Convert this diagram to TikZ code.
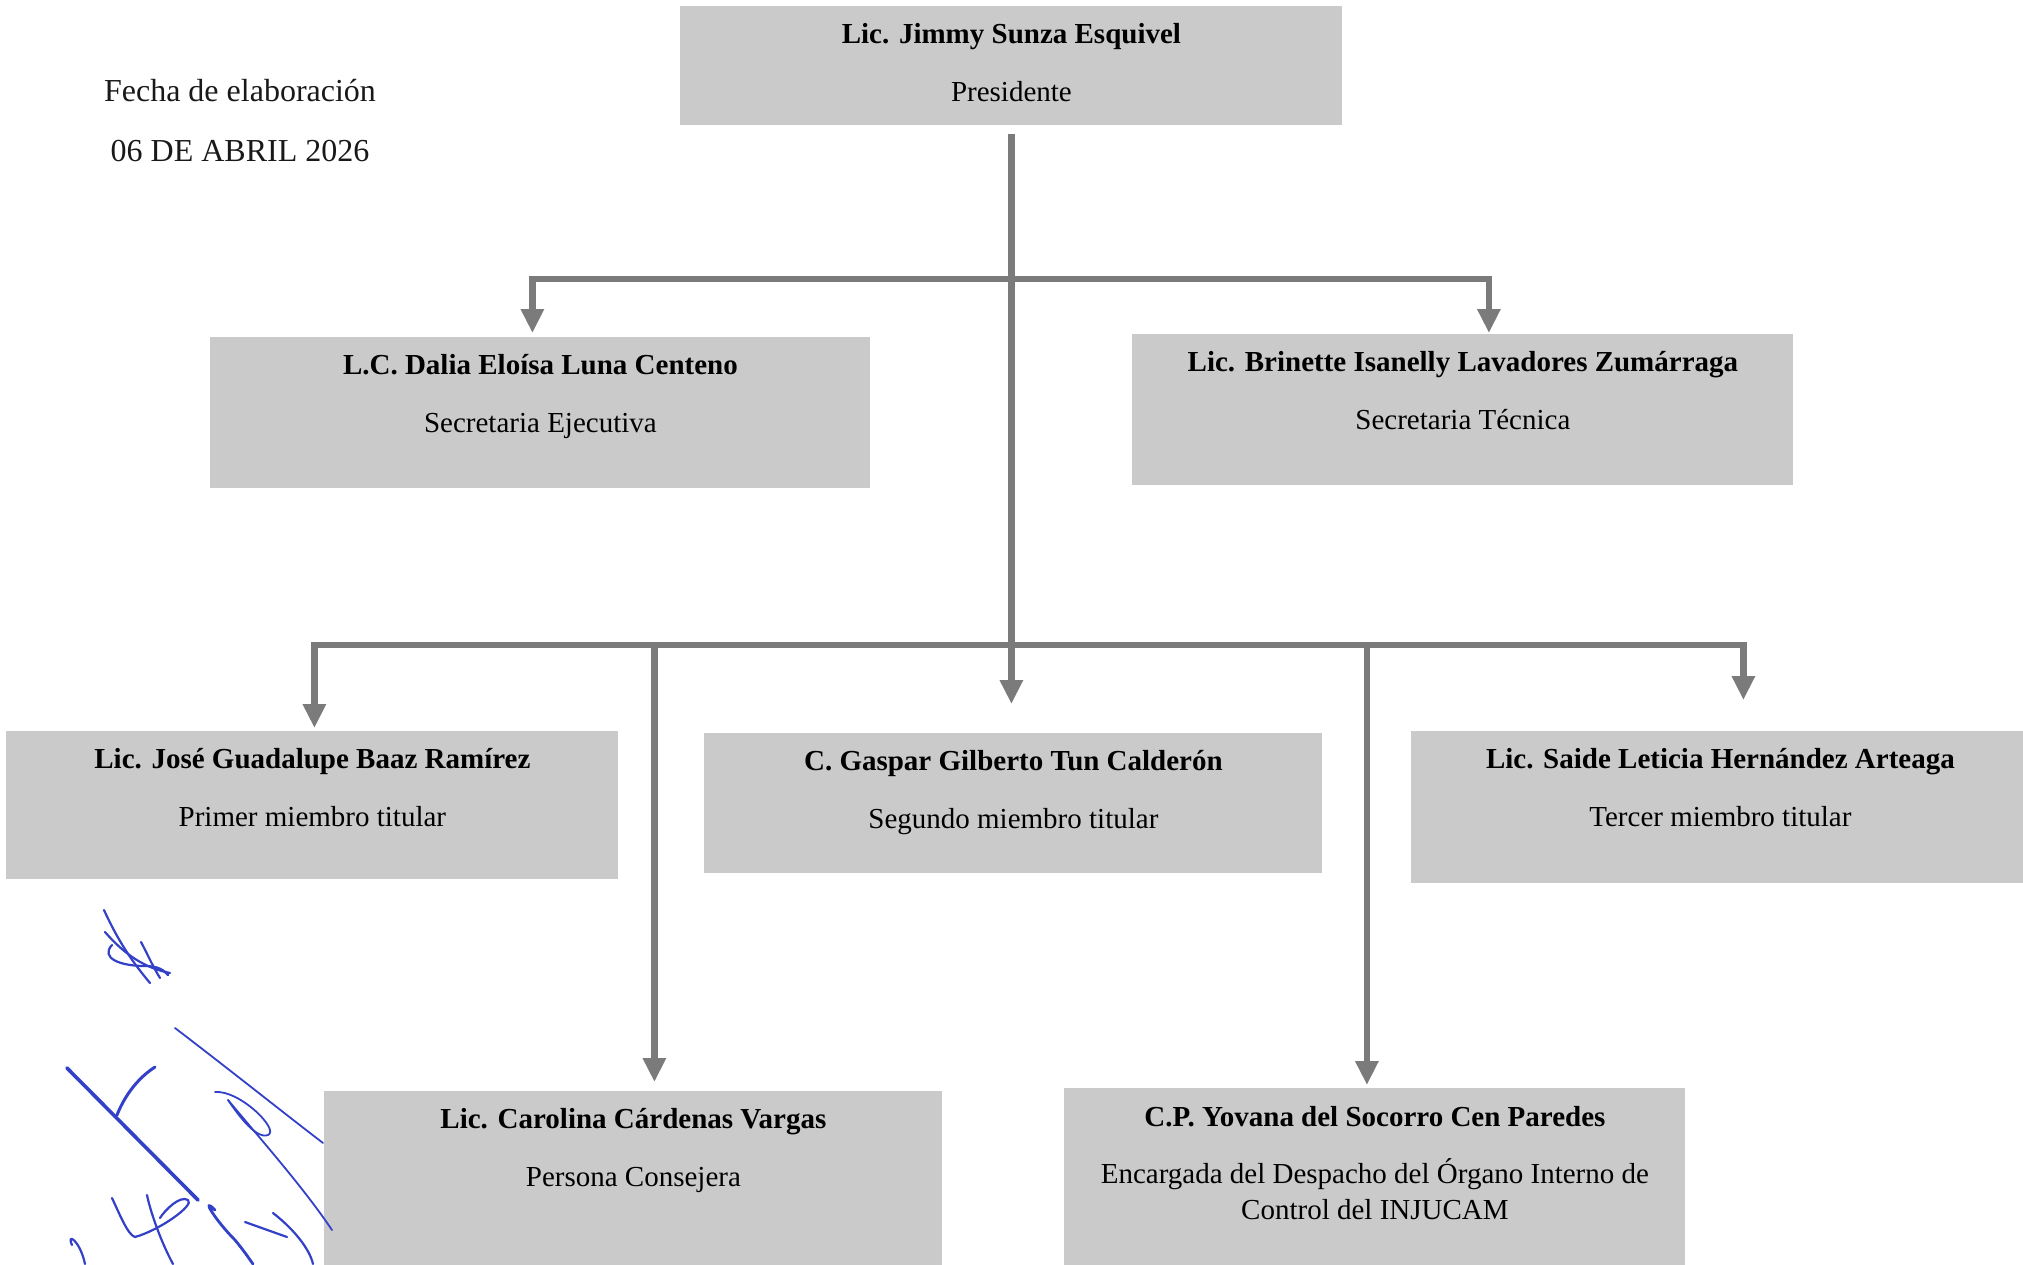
\documentclass[tikz,border=0pt]{standalone}
\usepackage{fontspec}
\setmainfont{Liberation Serif}
\usetikzlibrary{arrows.meta,calc}
\definecolor{boxgray}{HTML}{CACACA}
\definecolor{linegray}{HTML}{7B7B7B}
\definecolor{sigblue}{HTML}{3340C8}
\tikzset{
  box/.style={fill=boxgray,draw=none,inner sep=0pt,anchor=north west},
  nm/.style={font=\fontsize{14.5}{17}\selectfont\bfseries,anchor=base,inner sep=0pt,text=black},
  tl/.style={font=\fontsize{14.5}{17}\selectfont,anchor=base,inner sep=0pt,text=black},
  fecha/.style={font=\fontsize{16}{19}\selectfont,anchor=base,inner sep=0pt,text=black!90},
  conn/.style={draw=linegray,line width=3.25pt},
  arr/.style={-{Triangle[width=11pt,length=12pt]}},
  sig/.style={draw=sigblue,line width=1.1pt,line cap=round,line join=round}
}
\begin{document}
\begin{tikzpicture}[x=0.5pt,y=-0.5pt]
\useasboundingbox (0,0) rectangle (2023,1264);
\fill[white] (0,0) rectangle (2023,1264);

% boxes
\node[box,minimum width=331pt,minimum height=59.5pt] (pres) at (680,6) {};
\node[box,minimum width=330pt,minimum height=75.5pt] (sec1) at (210,337) {};
\node[box,minimum width=330.5pt,minimum height=75.5pt] (sec2) at (1132,334) {};
\node[box,minimum width=306pt,minimum height=74pt] (m1) at (6,731) {};
\node[box,minimum width=309pt,minimum height=70pt] (m2) at (704,733) {};
\node[box,minimum width=309pt,minimum height=76pt] (m3) at (1411,731) {};
\node[box,minimum width=309pt,minimum height=90pt] (car) at (324,1091) {};
\node[box,minimum width=310.5pt,minimum height=91pt] (yov) at (1064,1088) {};

% texts
\node[nm] (presN) at ($(pres.north)+(0,37)$) {Lic. Jimmy Sunza Esquivel};
\node[tl] (presT) at ($(pres.north)+(0,95)$) {Presidente};
\node[nm] (sec1N) at ($(sec1.north)+(0,37)$) {L.C. Dalia Eloísa Luna Centeno};
\node[tl] (sec1T) at ($(sec1.north)+(0,95)$) {Secretaria Ejecutiva};
\node[nm] (sec2N) at ($(sec2.north)+(0,37)$) {Lic. Brinette Isanelly Lavadores Zumárraga};
\node[tl] (sec2T) at ($(sec2.north)+(0,95)$) {Secretaria Técnica};
\node[nm] (m1N) at ($(m1.north)+(0,37)$) {Lic. José Guadalupe Baaz Ramírez};
\node[tl] (m1T) at ($(m1.north)+(0,95)$) {Primer miembro titular};
\node[nm] (m2N) at ($(m2.north)+(0,37)$) {C. Gaspar Gilberto Tun Calderón};
\node[tl] (m2T) at ($(m2.north)+(0,95)$) {Segundo miembro titular};
\node[nm] (m3N) at ($(m3.north)+(0,37)$) {Lic. Saide Leticia Hernández Arteaga};
\node[tl] (m3T) at ($(m3.north)+(0,95)$) {Tercer miembro titular};
\node[nm] (carN) at ($(car.north)+(0,37)$) {Lic. Carolina Cárdenas Vargas};
\node[tl] (carT) at ($(car.north)+(0,95)$) {Persona Consejera};
\node[nm] (yovN) at ($(yov.north)+(0,38)$) {C.P. Yovana del Socorro Cen Paredes};
\node[tl] (yovT1) at ($(yov.north)+(0,95)$) {Encargada del Despacho del Órgano Interno de};
\node[tl] (yovT2) at ($(yov.north)+(0,131)$) {Control del INJUCAM};

\node[fecha] (fe1) at (240,101) {Fecha de elaboración};
\node[fecha] (fe2) at (240,161) {06 DE ABRIL 2026};

% connectors
\coordinate (ju) at (1011,279);
\coordinate (jl) at (1011,645);
\draw[conn,arr] ($(pres.south)+(0,8)$) -- ($(pres.south |- m2.north)+(0,-29)$);
\draw[conn,arr] (ju) -| ($(sec1.north)+(-8,-4)$);
\draw[conn,arr] (ju) -| ($(sec2.north)+(26,-1)$);
\draw[conn,arr] (jl) -| ($(m1.north)+(2,-3)$);
\draw[conn,arr] (jl) -| ($(m3.north)+(23,-31)$);
\draw[conn,arr] (jl) -| ($(car.north)+(21,-9)$);
\draw[conn,arr] (jl) -| ($(yov.north)+(-8,-3)$);

% signatures
\draw[sig] (104,910) .. controls (120,945) and (135,965) .. (150,983);
\draw[sig] (105,932) .. controls (125,955) and (145,968) .. (170,973);
\draw[sig] (141,942) .. controls (148,955) and (152,965) .. (160,978);
\draw[sig] (112,945) .. controls (100,958) and (120,966) .. (145,966) .. controls (158,966) and (164,970) .. (168,975);
\draw[sig,line width=1.8pt] (67,1068) -- (198,1200);
\draw[sig,line width=1.5pt] (117,1115) .. controls (125,1095) and (138,1078) .. (155,1067);
\draw[sig,line width=0.9pt] (175,1028) .. controls (230,1070) and (280,1110) .. (323,1143);
\draw[sig,line width=0.9pt] (215,1092) .. controls (240,1090) and (280,1130) .. (268,1135) .. controls (255,1140) and (235,1110) .. (228,1100);
\draw[sig,line width=0.9pt] (228,1100) .. controls (270,1150) and (305,1190) .. (332,1230);
\draw[sig] (112,1198) .. controls (120,1215) and (128,1235) .. (135,1237) .. controls (160,1230) and (195,1205) .. (188,1200) .. controls (180,1195) and (165,1210) .. (160,1218);
\draw[sig] (147,1195) .. controls (150,1210) and (160,1240) .. (173,1264);
\draw[sig,line width=1.4pt] (215,1210) .. controls (200,1195) and (215,1220) .. (235,1240) .. controls (245,1252) and (250,1260) .. (253,1264);
\draw[sig] (245,1222) -- (287,1237);
\draw[sig] (273,1213) .. controls (295,1230) and (310,1250) .. (313,1264);
\draw[sig] (72,1245) .. controls (66,1232) and (80,1240) .. (85,1264);
\end{tikzpicture}
\end{document}
